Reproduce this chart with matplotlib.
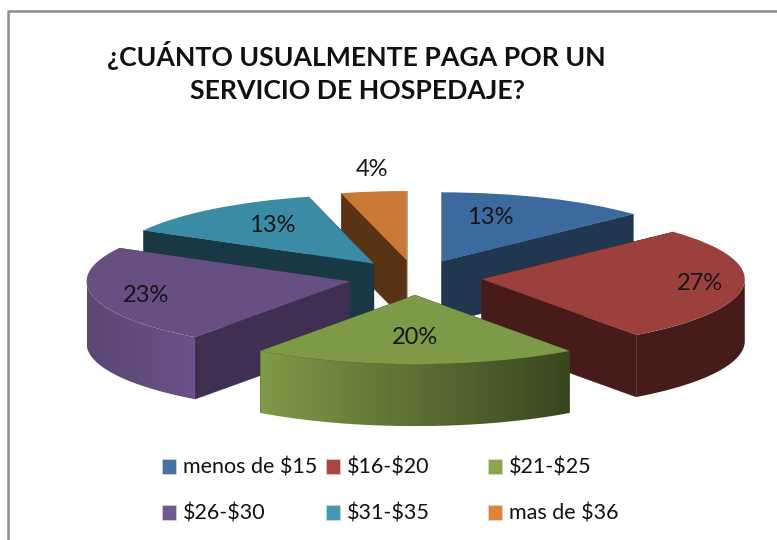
import matplotlib
matplotlib.use("Agg")
import numpy as np
import matplotlib.pyplot as plt
from matplotlib.colors import LinearSegmentedColormap
from matplotlib.patches import Patch, Polygon
from matplotlib.lines import Line2D

title_lines = ["¿CUÁNTO USUALMENTE PAGA POR UN", "SERVICIO DE HOSPEDAJE?"]
categories = ["menos de $15", "$16-$20", "$21-$25", "$26-$30", "$31-$35", "mas de $36"]
values = [13, 27, 20, 23, 13, 4]

top_colors = ["#3d6a9e", "#9c403e", "#7d9b46", "#674f84", "#3a8ca5", "#c97935"]
cut_colors = ["#20374f", "#461b19", "#38461f", "#3f2f51", "#183943", "#5a3315"]
wall_left = ["#20374f", "#461b19", "#7f9a48", "#5c4674", "#183943", "#5a3315"]
wall_right = ["#20374f", "#461b19", "#38461f", "#6b5189", "#183943", "#5a3315"]
legend_colors = ["#4672a8", "#aa4643", "#89a54e", "#71588f", "#4198af", "#db843d"]

W, H = 777, 540
CX, CY, RX, RY, DEPTH_PX = 415, 277.5, 263, 69, 62
EXPLODE = 0.255
DEPTH = DEPTH_PX / RY
draw_order = [5, 0, 4, 1, 3, 2]
label_px = [(490, 218), (700, 284), (415, 338), (146, 296), (272, 226), (372, 170)]

plt.rcParams["font.family"] = ["Lato", "DejaVu Sans"]
fig = plt.figure(figsize=(W / 100, H / 100), dpi=100, facecolor="white")
ax = fig.add_axes([0, 0, 1, 1])

wedges, _ = ax.pie(values, explode=[EXPLODE] * len(values), colors=top_colors,
                   startangle=90, counterclock=False, radius=1,
                   wedgeprops=dict(linewidth=0, antialiased=True))

fractions = np.cumsum([0] + values) / sum(values)
for rank, i in enumerate(draw_order):
    z = 2 + rank
    a0 = np.pi / 2 - 2 * np.pi * fractions[i]
    a1 = np.pi / 2 - 2 * np.pi * fractions[i + 1]
    mid = (a0 + a1) / 2
    ox, oy = EXPLODE * np.cos(mid), EXPLODE * np.sin(mid)
    # radial cut faces
    for a in (a0, a1):
        ex, ey = ox + np.cos(a), oy + np.sin(a)
        ax.fill([ox, ex, ex, ox], [oy, ey, ey - DEPTH, oy - DEPTH],
                color=cut_colors[i], lw=0.3, zorder=z)
    # outer rim, front half only: a horizontal gradient clipped to its outline
    angles = np.r_[np.linspace(a1, a0, 120), -np.pi, 0.0]
    angles = np.sort(angles[(angles >= a1) & (angles <= a0)])
    angles = angles[np.sin(angles) <= 1e-9]
    if angles.size < 2:
        wedges[i].set_zorder(z + 0.5)
        continue
    xs, ys = ox + np.cos(angles), oy + np.sin(angles)
    outline = np.r_[np.c_[xs, ys], np.c_[xs[::-1], ys[::-1] - DEPTH]]
    clip = Polygon(outline, closed=True, transform=ax.transData)
    cmap = LinearSegmentedColormap.from_list(f"w{i}", [wall_left[i], wall_right[i]])
    im = ax.imshow(np.linspace(0, 1, 256)[None, :], cmap=cmap, aspect="auto",
                   extent=(xs.min(), xs.max(), ys.min() - DEPTH, ys.max()),
                   zorder=z + 0.1, interpolation="bilinear")
    im.set_clip_path(clip)
    wedges[i].set_zorder(z + 0.5)

ax.set_aspect("auto")
ax.set_xlim(-CX / RX, (W - CX) / RX)
ax.set_ylim((CY - H) / RY, CY / RY)
ax.axis("off")

for v, (px, py) in zip(values, label_px):
    ax.text((px - CX) / RX, (CY - py) / RY, f"{v}%", ha="center", va="center",
            fontsize=17, color="#151515", zorder=20)

# frame of the chart area (open at the bottom and on the right)
fig.add_artist(Line2D([8 / W, 8 / W, 1], [0, 1 - 11 / H, 1 - 11 / H],
                      color="#8c8c8c", lw=1.8))

fig.text(356 / W, 1 - 56 / H, title_lines[0], ha="center", va="center",
         fontsize=19.2, fontweight="bold", color="#111111")
fig.text(357 / W, 1 - 91 / H, title_lines[1], ha="center", va="center",
         fontsize=19.2, fontweight="bold", color="#111111")

col_x = [162, 326, 488]
for c, x in enumerate(col_x):
    idx = [c, c + 3]
    handles = [Patch(facecolor=legend_colors[j], edgecolor="#dddddd", linewidth=0.4) for j in idx]
    labels = [categories[j].replace("$", r"\$") for j in idx]
    fig.legend(handles, labels, loc="upper left",
               bbox_to_anchor=(x / W, 1 - 458 / H), frameon=False,
               fontsize=15.5, borderpad=0, borderaxespad=0, handlelength=0.66,
               handleheight=0.66, handletextpad=0.3, labelspacing=1.2,
               labelcolor="#111111")

fig.savefig("out.png", dpi=100, facecolor="white")
